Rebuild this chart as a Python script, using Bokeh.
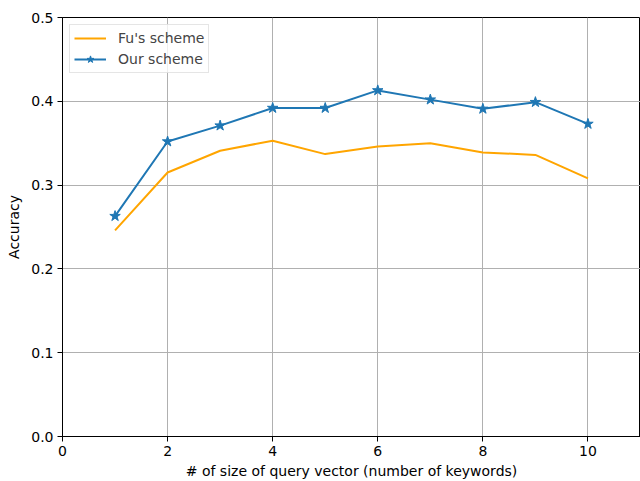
from bokeh.plotting import figure
from bokeh.models import Range1d, FixedTicker, Legend, LegendItem
from bokeh.embed import file_html
from bokeh.resources import INLINE

x_vals = [1, 2, 3, 4, 5, 6, 7, 8, 9, 10]
fu_scheme = [0.246, 0.315, 0.341, 0.353, 0.337, 0.346, 0.350, 0.339, 0.336, 0.308]
our_scheme = [0.263, 0.352, 0.371, 0.392, 0.392, 0.413, 0.402, 0.391, 0.399, 0.373]
x_ticks = [0, 2, 4, 6, 8, 10]
y_ticks = [0.0, 0.1, 0.2, 0.3, 0.4, 0.5]

FONT = "DejaVu Sans"

p = figure(width=640, height=481, output_backend="svg", toolbar_location=None,
           x_range=Range1d(0, 11), y_range=Range1d(0, 0.5),
           min_border_left=62, min_border_top=17, min_border_right=0, min_border_bottom=44)
p.background_fill_color = "white"
p.border_fill_color = "white"
p.outline_line_color = "black"
p.outline_line_width = 1

for ax in (p.xaxis[0], p.yaxis[0]):
    ax.axis_line_color = "black"
    ax.axis_line_width = 1
    ax.major_tick_line_color = "black"
    ax.major_tick_out = 5
    ax.major_tick_in = 0
    ax.minor_tick_line_color = None
    ax.major_label_text_font = FONT
    ax.major_label_text_font_size = "14px"
    ax.major_label_text_color = "black"
    ax.axis_label_text_font = FONT
    ax.axis_label_text_font_size = "14px"
    ax.axis_label_text_font_style = "normal"
    ax.axis_label_text_color = "black"

p.xaxis.ticker = FixedTicker(ticks=x_ticks)
p.yaxis.ticker = FixedTicker(ticks=y_ticks)
p.yaxis.major_label_overrides = {v: f"{v:.1f}" for v in y_ticks}
p.xaxis.axis_label = "# of size of query vector (number of keywords)"
p.yaxis.axis_label = "Accuracy"
p.xaxis.major_label_standoff = 4
p.yaxis.major_label_standoff = 4
p.xaxis.axis_label_standoff = 4
p.yaxis.axis_label_standoff = 6

p.xgrid.grid_line_color = "#b0b0b0"
p.ygrid.grid_line_color = "#b0b0b0"
p.xgrid.grid_line_width = 1
p.ygrid.grid_line_width = 1

fu_line = p.line(x_vals, fu_scheme, line_color="#ffa500", line_width=2)
our_line = p.line(x_vals, our_scheme, line_color="#1f77b4", line_width=2)
our_pts = p.scatter(x_vals, our_scheme, marker="star", size=11,
                    fill_color="#1f77b4", line_color="#1f77b4")

legend = Legend(items=[LegendItem(label="Fu's scheme", renderers=[fu_line]),
                       LegendItem(label="Our scheme", renderers=[our_line, our_pts])],
                location="top_left")
legend.margin = 7
legend.padding = 4
legend.spacing = 3
legend.label_text_font = FONT
legend.label_text_font_size = "14px"
legend.label_standoff = 12
legend.glyph_width = 32
legend.glyph_height = 18
legend.border_line_color = "#cccccc"
legend.border_line_width = 1
legend.background_fill_alpha = 0.8
p.add_layout(legend)

open("out.html", "w").write(file_html(p, INLINE))
